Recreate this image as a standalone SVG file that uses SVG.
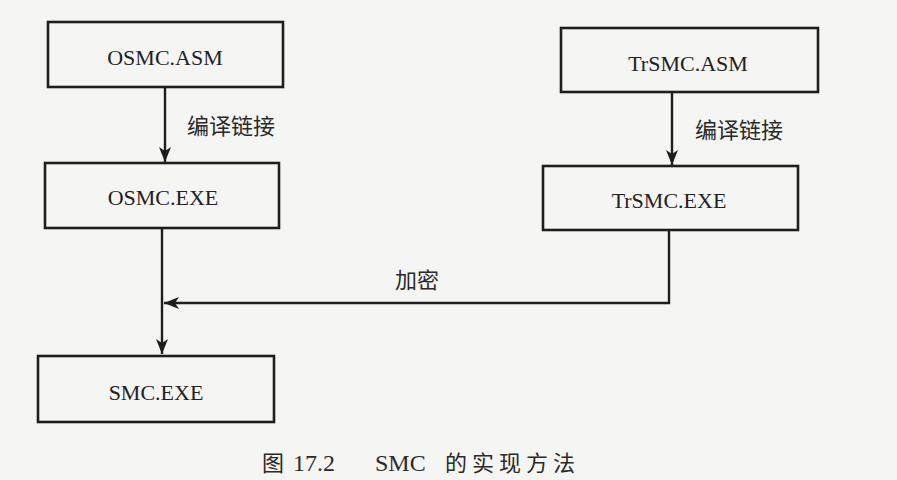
<svg xmlns="http://www.w3.org/2000/svg" width="897" height="480" viewBox="0 0 897 480">
<style>
.box{fill:none;stroke:#1e1e1e;stroke-width:2.6}
.lbl{font-family:"Liberation Serif","Times New Roman",serif;font-size:22px;fill:#222;text-anchor:middle}
.cjk{font-family:"Noto Sans CJK SC","Noto Sans",sans-serif;font-size:22px;fill:#2a2a2a}
.conn{fill:none;stroke:#1e1e1e;stroke-width:2.4}
.cap{font-family:"Liberation Serif","Noto Sans CJK SC",serif;font-size:24px;fill:#2a2a2a}
.capc{font-family:"Noto Sans CJK SC",sans-serif;font-size:22px}
</style>
<defs>
<marker id="arr" markerUnits="userSpaceOnUse" markerWidth="18" markerHeight="14" refX="15" refY="6" orient="auto">
<path d="M0,0 L15,6 L0,12 L4,6 z" fill="#1e1e1e"/>
</marker>
</defs>
<rect width="897" height="480" fill="#f5f5f3"/>
<g id="osmc-asm"><rect class="box" x="48" y="22" width="235" height="65"/><text class="lbl" x="165" y="65">OSMC.ASM</text></g>
<g id="osmc-exe"><rect class="box" x="45" y="163" width="234" height="65"/><text class="lbl" x="163" y="205">OSMC.EXE</text></g>
<g id="trsmc-asm"><rect class="box" x="561" y="28" width="257" height="64"/><text class="lbl" x="688" y="71">TrSMC.ASM</text></g>
<g id="trsmc-exe"><rect class="box" x="543" y="166" width="255" height="64"/><text class="lbl" x="669" y="208">TrSMC.EXE</text></g>
<g id="smc-exe"><rect class="box" x="38" y="356" width="236" height="66"/><text class="lbl" x="156" y="400">SMC.EXE</text></g>
<g id="connectors">
<line class="conn" x1="165" y1="87" x2="165" y2="162" marker-end="url(#arr)"/>
<line class="conn" x1="672" y1="92" x2="672" y2="165" marker-end="url(#arr)"/>
<line class="conn" x1="162" y1="228" x2="162" y2="354" marker-end="url(#arr)"/>
<polyline class="conn" points="669,230 669,303 164,303" marker-end="url(#arr)"/>
<text class="cjk" x="187" y="134" font-size="23">编译链接</text>
<text class="cjk" x="695" y="138" font-size="23">编译链接</text>
<text class="cjk" x="395" y="288" font-size="21">加密</text>
</g>
<text class="cap" x="262" y="471"><tspan class="capc">图</tspan><tspan x="293">17.2</tspan><tspan x="375">SMC</tspan><tspan class="capc" x="445" letter-spacing="5">的实现方法</tspan></text>
</svg>
